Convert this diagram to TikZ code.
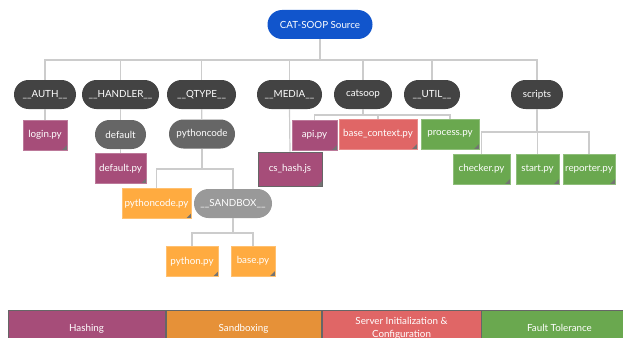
\documentclass[tikz,border=0pt]{standalone}
\usepackage{fontspec}
\setmainfont{Lato}
\definecolor{srcblue}{HTML}{1155CC}
\definecolor{dirgray}{HTML}{434343}
\definecolor{subgray}{HTML}{666666}
\definecolor{boxgray}{HTML}{999999}
\definecolor{hashpurple}{HTML}{A64D79}
\definecolor{sandorange}{HTML}{FFAB40}
\definecolor{sandlegend}{HTML}{E69138}
\definecolor{initred}{HTML}{E06666}
\definecolor{faultgreen}{HTML}{6AA84F}
\definecolor{wiregray}{HTML}{CCCCCC}
\tikzset{x=1pt, y=-1pt,
  every node/.style={text=white, inner sep=0pt, font=\fontsize{9.8}{13.5}\selectfont},
  pill/.style={rounded corners=14.5pt, minimum height=29pt, fill=dirgray},
  file/.style={minimum height=30pt, fill=#1, draw=#1!75!white, line width=0.6pt,
    path picture={\fill[black!55] (path picture bounding box.south east) -- ++(-5pt,0pt) -- ++(5pt,5pt) -- cycle;}},
  legend/.style={minimum height=36pt, fill=#1, draw=black!60, line width=0.6pt, align=center, anchor=north},
  wire/.style={draw=wiregray, line width=1.2pt}}

\begin{document}
\begin{tikzpicture}
   \useasboundingbox (0,0) rectangle (623,337);
   \clip (0,0) rectangle (623,337);
   \coordinate (bus) at (0,60);
   \coordinate (catbus) at (0,115);
   \coordinate (scrbus) at (0,132);
   \coordinate (pcbus) at (0,169);
   \coordinate (sbbus) at (0,233);
   \node[pill, fill=srcblue, minimum width=105pt] (root) at (320,24.5) {CAT-SOOP Source};
   \node[pill, minimum width=62pt] (auth)    at ( 45,94.5) {\_\_AUTH\_\_};
   \node[pill, minimum width=77pt] (handler) at (120.5,94.5) {\_\_HANDLER\_\_};
   \node[pill, minimum width=69pt] (qtype)   at (201.5,94.5) {\_\_QTYPE\_\_};
   \node[pill, minimum width=65pt] (media)   at (289.5,94.5) {\_\_MEDIA\_\_};
   \node[pill, minimum width=58pt] (catsoop) at (363,94.5) {catsoop};
   \node[pill, minimum width=56pt] (util)    at (432,94.5) {\_\_UTIL\_\_};
   \node[pill, minimum width=52pt] (scripts) at (537,94.5) {scripts};
   \node[pill, fill=subgray, minimum width=51pt] (default)    at (120.5,134.5) {default};
   \node[pill, fill=subgray, minimum width=66pt] (pythoncode) at (202,134) {pythoncode};
   \node[pill, fill=boxgray, minimum width=78pt] (sandbox)    at (233,203.5) {\_\_SANDBOX\_\_};
   \node[file=hashpurple, minimum width=44pt] (login)     at ( 45,135) {login.py};
   \node[file=hashpurple, minimum width=51pt] (defaultpy) at (120.5,168.5) {default.py};
   \node[file=hashpurple, minimum width=45pt] (api)       at (314.5,135) {api.py};
   \node[file=hashpurple, minimum width=64pt, minimum height=34pt, draw=black!60] (cshash) at (290,169) {cs\_hash.js};
   \node[file=sandorange, minimum width=69pt] (pythoncodepy) at (156.5,203.5) {pythoncode.py};
   \node[file=sandorange, minimum width=52pt] (pythonpy)     at (192,261.5) {python.py};
   \node[file=sandorange, minimum width=44pt] (basepy)       at (253,261) {base.py};
   \node[file=initred, minimum width=78pt] (basectx) at (378,134) {base\_context.py};
   \node[file=faultgreen, minimum width=58pt] (process)  at (450,134) {process.py};
   \node[file=faultgreen, minimum width=57pt] (checker)  at (481.5,169) {checker.py};
   \node[file=faultgreen, minimum width=43pt] (start)    at (537.5,169) {start.py};
   \node[file=faultgreen, minimum width=52pt] (reporter) at (589,169) {reporter.py};
   % connectors
   \foreach \n in {auth,handler,qtype,media,catsoop,util,scripts}
     \draw[wire] (root.south) -- (root.south |- bus) -| (\n.north);
   \draw[wire] (auth) -- (login);
   \draw[wire] (handler) -- (default);
   \draw[wire] (default) -- (defaultpy);
   \draw[wire] (qtype) -- (pythoncode);
   \draw[wire] (media.south) -- (cshash.north);
   \foreach \n in {api,basectx,process}
     \draw[wire] (catsoop.south) -- (catsoop.south |- catbus) -| (\n.north);
   \foreach \n in {checker,start,reporter}
     \draw[wire] (scripts.south) -- (scripts.south |- scrbus) -| (\n.north);
   \foreach \n in {pythoncodepy,sandbox}
     \draw[wire] (pythoncode.south) -- (pythoncode.south |- pcbus) -| (\n.north);
   \foreach \n in {pythonpy,basepy}
     \draw[wire] (sandbox.south) -- (sandbox.south |- sbbus) -| (\n.north);
   % legend
   \node[legend=hashpurple, minimum width=157pt] (hashing) at (86.5,310) {Hashing};
   \node[legend=sandlegend, minimum width=155pt] (sandboxing) at (243.5,310) {Sandboxing};
   \node[legend=initred, minimum width=159pt] (serverinit) at (401.5,310) {Server Initialization \&\\Configuration};
   \node[legend=faultgreen, minimum width=157pt] (fault) at (559.5,310) {Fault Tolerance};
\end{tikzpicture}
\end{document}
